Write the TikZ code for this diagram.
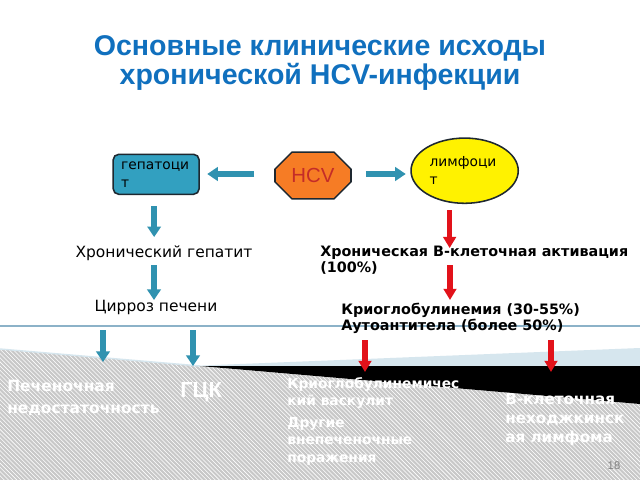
\documentclass[tikz,border=0pt]{standalone}
\usepackage{fontspec}
\setmainfont{Liberation Sans}
\newfontfamily\verd{DejaVu Sans}
\usetikzlibrary{arrows.meta,patterns,shapes.geometric,shapes.misc,positioning}

\definecolor{titleblue}{RGB}{16,112,190}
\definecolor{boxteal}{RGB}{50,160,192}
\definecolor{arrteal}{RGB}{48,146,176}
\definecolor{virorange}{RGB}{246,124,37}
\definecolor{virtext}{RGB}{196,44,40}
\definecolor{arrred}{RGB}{226,18,26}
\definecolor{edgedark}{RGB}{30,40,48}
\definecolor{rulecol}{RGB}{140,178,200}
\definecolor{bandblue}{RGB}{214,230,238}
\definecolor{hatchgray}{RGB}{200,200,200}

\begin{document}
\begin{tikzpicture}[x=0.025cm, y=-0.025cm, node distance=3.85cm,
	shapebox/.style={draw=edgedark, line width=1.1pt, font=\verd\fontsize{9.8}{12.6}\selectfont, align=left},
	tealarr/.style={draw=arrteal, line width=4.3pt, -{Triangle[width=9.5pt,length=7.5pt]}},
	redarr/.style={draw=arrred, line width=4pt, -{Triangle[width=9pt,length=8pt]}},
	midtext/.style={font=\verd\fontsize{11}{13}\selectfont, inner sep=0pt},
	boldtext/.style={font=\verd\bfseries\fontsize{10.2}{11.4}\selectfont, align=left, inner sep=0pt, anchor=west},
	outtext/.style={text=white, font=\verd\bfseries\fontsize{11}{15.6}\selectfont, align=left, inner sep=0pt, anchor=west}]
	
	% frame and bottom bands
	\useasboundingbox[fill=white] (0,0) rectangle (640,480);
	\fill[hatchgray] (0,349) -- (640,404) -- (640,480) -- (0,480) -- cycle;
	\fill[pattern=north west lines, pattern color=white] (0,349) -- (640,404) -- (640,480) -- (0,480) -- cycle;
	\fill[bandblue] (190,366) -- (640,348) -- (640,366) -- cycle;
	\fill[black] (200,366) -- (640,366) -- (640,404) -- cycle;
	\draw[bandblue, line width=1pt] (0,349) -- (200,366);
	\draw[rulecol, line width=0.8pt] (0,326) -- (640,326);
	
	% title
	\node[text=titleblue, font=\bfseries\fontsize{20.3}{21.3}\selectfont, align=center] (title) at (320,63)
		{Основные клинические исходы\\хронической HCV-инфекции};
	
	% virus and target cells
	\node[chamfered rectangle, chamfered rectangle xsep=12pt, chamfered rectangle ysep=7pt, draw=edgedark, line width=1.1pt,
		fill=virorange, minimum width=1.9cm, minimum height=1.17cm, inner sep=0pt,
		text=virtext, font=\fontsize{14.5}{16}\selectfont] (hcv) at (313,175.5) {HCV};
	\node[shapebox, rectangle, rounded corners=4pt, fill=boxteal, text width=1.75cm,
		inner xsep=0.2cm, minimum height=1cm] (hep) [left of=hcv, yshift=0.03cm, xshift=-0.07cm] {гепатоци\\т};
	\node[shapebox, ellipse, fill=yellow, minimum width=2.68cm, minimum height=1.63cm,
		inner sep=0pt, text width=1.75cm] (lym) [right of=hcv, yshift=0.12cm, xshift=-0.06cm] {лимфоци\\т};
	
	% liver branch
	\node[midtext] (hepatitis) at (164,253) {Хронический гепатит};
	\node[midtext] (cirr) at (156,307) {Цирроз печени};
	
	% lymphoid branch
	\node[boldtext] (bact) at (320,260) {Хроническая В-клеточная активация\\(100\%)};
	\node[boldtext] (cryo) at (341,318.5) {Криоглобулинемия (30-55\%)\\Аутоантитела (более 50\%)};
	
	% outcomes
	\node[outtext] (liver) at (7,398) {Печеночная\\недостаточность};
	\node[text=white, font=\bfseries\fontsize{15.5}{17}\selectfont, inner sep=0pt, anchor=west] (hcc) at (180,392) {ГЦК};
	\node[outtext, font=\verd\bfseries\fontsize{9.8}{11.6}\selectfont] (vasc) at (287,393) {Криоглобулинемичес\\кий васкулит};
	\node[outtext, font=\verd\bfseries\fontsize{9.8}{12.4}\selectfont] (other) at (287,441) {Другие\\внепеченочные\\поражения};
	\node[outtext, font=\verd\bfseries\fontsize{10.8}{13.5}\selectfont] (nhl) at (505,420) {В-клеточная\\неходжкинск\\ая лимфома};
	\node[text=gray, font=\fontsize{8}{9}\selectfont, inner sep=0pt] (page) at (614,466) {18};
	
	% arrows
	\draw[tealarr] ([shift={(-20,-1.5)}]hcv.west) -- ++(-47,0);
	\draw[tealarr] ([shift={(14,-1.5)}]hcv.east) -- ++(40,0);
	\draw[tealarr] ([shift={(-2,11)}]hep.south) -- ++(0,31);
	\draw[tealarr] ([shift={(-2,-42)}]cirr.center) -- ++(0,35);
	\draw[redarr] ([shift={(-15,6)}]lym.south) -- ++(0,38);
	\draw[redarr] ([shift={(130,5)}]bact.west) -- ++(0,35);
	\coordinate (liv top) at (103,330);
	\coordinate (hcc top) at (193,330);
	\coordinate (vasc top) at (365,340);
	\coordinate (nhl top) at (551,340);
	\draw[tealarr] (liv top) -- ++(0,32);
	\draw[tealarr] (hcc top) -- ++(0,36);
	\draw[redarr] (vasc top) -- ++(0,32);
	\draw[redarr] (nhl top) -- ++(0,32);
\end{tikzpicture}
\end{document}
